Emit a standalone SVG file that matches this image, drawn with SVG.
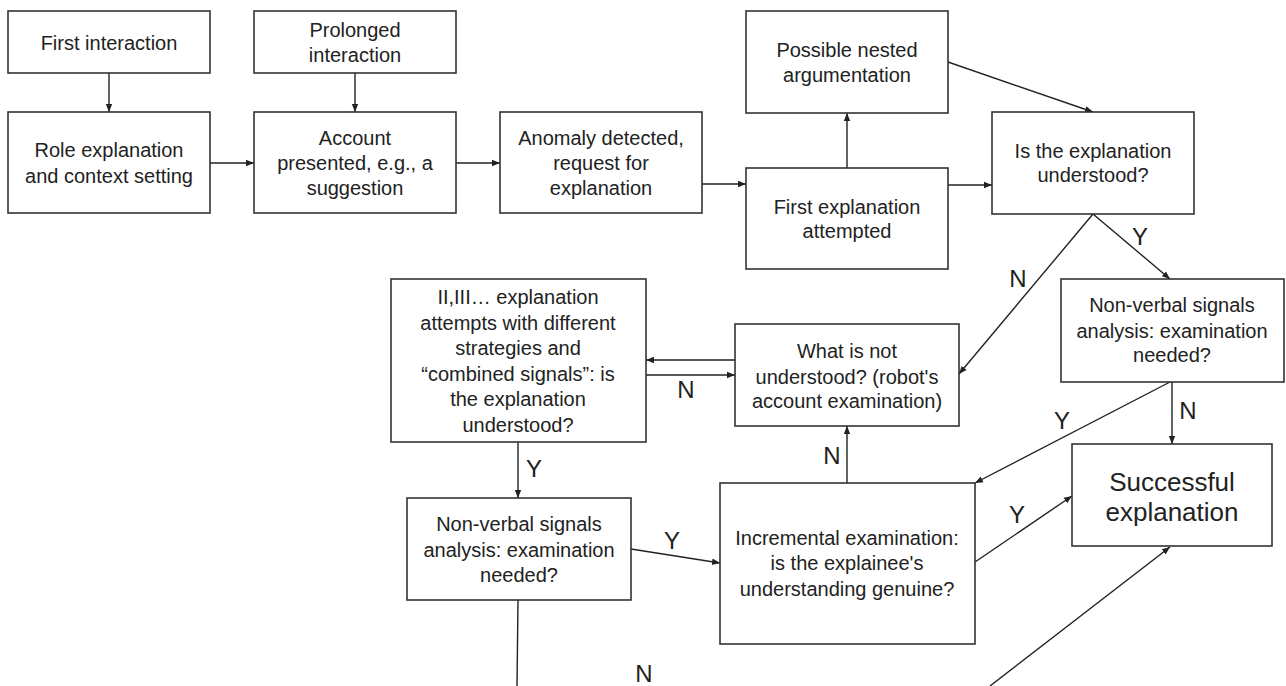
<svg xmlns="http://www.w3.org/2000/svg" width="1286" height="686" viewBox="0 0 1286 686">
<style>
.box{fill:#fff;stroke:#333;stroke-width:1.6}
.t{font-family:"Liberation Sans",Arial,sans-serif;font-size:20px;fill:#222;text-anchor:middle}
.big{font-size:26px}
.lbl{font-family:"Liberation Sans",Arial,sans-serif;font-size:24px;fill:#222;text-anchor:middle}
.c{stroke:#222;stroke-width:1.4;fill:none}
.a{marker-end:url(#ah)}
</style>
<defs>
<marker id="ah" viewBox="0 0 10 10" refX="10" refY="5" markerWidth="8" markerHeight="8" markerUnits="userSpaceOnUse" orient="auto">
<path d="M0,1 L10,5 L0,9 z" fill="#222"/>
</marker>
</defs>
<rect width="1286" height="686" fill="#fff"/>
<g id="connectors">
<line class="c a" x1="109" y1="73" x2="109" y2="112"/>
<line class="c a" x1="355" y1="73" x2="355" y2="112"/>
<line class="c a" x1="210" y1="163" x2="254" y2="163"/>
<line class="c a" x1="456" y1="163" x2="500" y2="163"/>
<line class="c a" x1="702" y1="184" x2="746" y2="184"/>
<line class="c a" x1="847" y1="168" x2="847" y2="113"/>
<line class="c a" x1="948" y1="62" x2="1093" y2="112"/>
<line class="c a" x1="948" y1="185" x2="992" y2="185"/>
<line class="c a" x1="1093" y1="214" x2="1170" y2="279"/>
<line class="c a" x1="1093" y1="214" x2="959" y2="374"/>
<line class="c a" x1="735" y1="360" x2="646" y2="360"/>
<line class="c a" x1="646" y1="375" x2="735" y2="375"/>
<line class="c a" x1="518" y1="442" x2="518" y2="498"/>
<line class="c a" x1="631" y1="549" x2="720" y2="563"/>
<line class="c a" x1="847" y1="483" x2="847" y2="426"/>
<line class="c a" x1="1170" y1="382" x2="975" y2="483"/>
<line class="c a" x1="1172" y1="382" x2="1172" y2="444"/>
<line class="c a" x1="975" y1="562" x2="1072" y2="496"/>
<line class="c" x1="518" y1="600" x2="517" y2="686"/>
<line class="c a" x1="990" y1="686" x2="1170" y2="547"/>
<text class="lbl" x="1018" y="287">N</text>
<text class="lbl" x="1140" y="245">Y</text>
<text class="lbl" x="686" y="398">N</text>
<text class="lbl" x="534" y="477">Y</text>
<text class="lbl" x="832" y="464">N</text>
<text class="lbl" x="672" y="549">Y</text>
<text class="lbl" x="644" y="682">N</text>
<text class="lbl" x="1062" y="429">Y</text>
<text class="lbl" x="1188" y="419">N</text>
<text class="lbl" x="1017" y="523">Y</text>
</g>
<g id="first-interaction">
<rect class="box" x="8" y="11" width="202" height="62"/>
<text class="t" x="109" y="50">First interaction</text>
</g>
<g id="role-explanation">
<rect class="box" x="8" y="112" width="202" height="101"/>
<text class="t" x="109" y="157">Role explanation</text>
<text class="t" x="109" y="183">and context setting</text>
</g>
<g id="prolonged-interaction">
<rect class="box" x="254" y="11" width="202" height="62"/>
<text class="t" x="355" y="37">Prolonged</text>
<text class="t" x="355" y="62">interaction</text>
</g>
<g id="account-presented">
<rect class="box" x="254" y="112" width="202" height="101"/>
<text class="t" x="355" y="145">Account</text>
<text class="t" x="355" y="170">presented, e.g., a</text>
<text class="t" x="355" y="195">suggestion</text>
</g>
<g id="anomaly-detected">
<rect class="box" x="500" y="112" width="202" height="101"/>
<text class="t" x="601" y="145">Anomaly detected,</text>
<text class="t" x="601" y="170">request for</text>
<text class="t" x="601" y="195">explanation</text>
</g>
<g id="nested-argumentation">
<rect class="box" x="746" y="11" width="202" height="102"/>
<text class="t" x="847" y="57">Possible nested</text>
<text class="t" x="847" y="82">argumentation</text>
</g>
<g id="first-explanation">
<rect class="box" x="746" y="168" width="202" height="101"/>
<text class="t" x="847" y="214">First explanation</text>
<text class="t" x="847" y="238">attempted</text>
</g>
<g id="is-understood">
<rect class="box" x="992" y="112" width="202" height="102"/>
<text class="t" x="1093" y="158">Is the explanation</text>
<text class="t" x="1093" y="182">understood?</text>
</g>
<g id="nonverbal-right">
<rect class="box" x="1061" y="279" width="223" height="103"/>
<text class="t" x="1172" y="312">Non-verbal signals</text>
<text class="t" x="1172" y="338">analysis: examination</text>
<text class="t" x="1172" y="362">needed?</text>
</g>
<g id="what-not-understood">
<rect class="box" x="735" y="324" width="224" height="102"/>
<text class="t" x="847" y="358">What is not</text>
<text class="t" x="847" y="384">understood? (robot's</text>
<text class="t" x="847" y="408">account examination)</text>
</g>
<g id="further-attempts">
<rect class="box" x="391" y="279" width="255" height="163"/>
<text class="t" x="518" y="304">II,III… explanation</text>
<text class="t" x="518" y="330">attempts with different</text>
<text class="t" x="518" y="355">strategies and</text>
<text class="t" x="518" y="381">“combined signals”: is</text>
<text class="t" x="518" y="406">the explanation</text>
<text class="t" x="518" y="432">understood?</text>
</g>
<g id="nonverbal-left">
<rect class="box" x="407" y="498" width="224" height="102"/>
<text class="t" x="519" y="531">Non-verbal signals</text>
<text class="t" x="519" y="557">analysis: examination</text>
<text class="t" x="519" y="582">needed?</text>
</g>
<g id="incremental-examination">
<rect class="box" x="720" y="483" width="255" height="161"/>
<text class="t" x="847" y="545">Incremental examination:</text>
<text class="t" x="847" y="570">is the explainee's</text>
<text class="t" x="847" y="596">understanding genuine?</text>
</g>
<g id="successful-explanation">
<rect class="box" x="1072" y="444" width="200" height="102"/>
<text class="t big" x="1172" y="491">Successful</text>
<text class="t big" x="1172" y="521">explanation</text>
</g>
</svg>
